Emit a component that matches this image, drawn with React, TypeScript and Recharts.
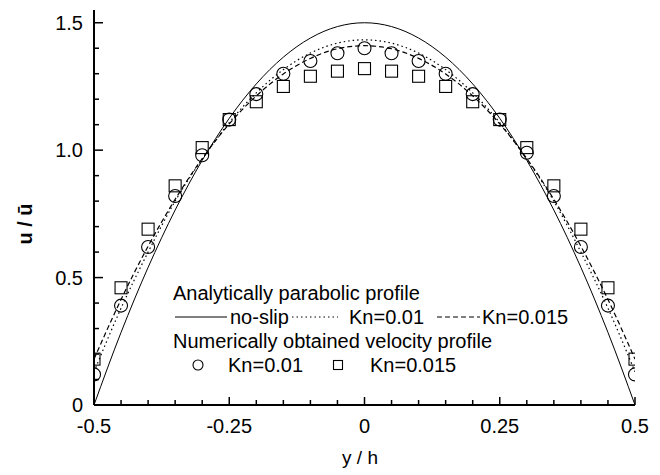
import { ComposedChart, Line, Scatter, XAxis, YAxis, Legend } from 'recharts';

// channel position y/h and velocity ratio u/ū
const positions = [
  -0.5, -0.45, -0.4, -0.35, -0.3, -0.25, -0.2, -0.15, -0.1, -0.05, 0,
  0.05, 0.1, 0.15, 0.2, 0.25, 0.3, 0.35, 0.4, 0.45, 0.5,
];

// analytical profiles
const noSlip = [
  0, 0.285, 0.54, 0.765, 0.96, 1.125, 1.26, 1.365, 1.44, 1.485, 1.5,
  1.485, 1.44, 1.365, 1.26, 1.125, 0.96, 0.765, 0.54, 0.285, 0,
];
const slipKn01 = [
  0.13, 0.38, 0.6, 0.8, 0.965, 1.108, 1.225, 1.316, 1.381, 1.42, 1.433,
  1.42, 1.381, 1.316, 1.225, 1.108, 0.965, 0.8, 0.6, 0.38, 0.13,
];
const slipKn015 = [
  0.18, 0.414, 0.623, 0.807, 0.967, 1.103, 1.213, 1.299, 1.36, 1.398, 1.41,
  1.398, 1.36, 1.299, 1.213, 1.103, 0.967, 0.807, 0.623, 0.414, 0.18,
];

// numerical results
const numKn01 = [
  0.12, 0.39, 0.62, 0.82, 0.98, 1.12, 1.22, 1.3, 1.35, 1.38, 1.4,
  1.38, 1.35, 1.3, 1.22, 1.12, 0.99, 0.82, 0.62, 0.39, 0.12,
];
const numKn015 = [
  0.18, 0.46, 0.69, 0.86, 1.01, 1.12, 1.19, 1.25, 1.29, 1.31, 1.32,
  1.31, 1.29, 1.25, 1.19, 1.12, 1.01, 0.86, 0.69, 0.46, 0.18,
];

const xTicks = [
  -0.5, -0.45, -0.4, -0.35, -0.3, -0.25, -0.2, -0.15, -0.1, -0.05, 0,
  0.05, 0.1, 0.15, 0.2, 0.25, 0.3, 0.35, 0.4, 0.45, 0.5,
];
const xMajor = [-0.5, -0.25, 0, 0.25, 0.5];
const xLabels = ['-0.5', '-0.25', '0', '0.25', '0.5'];
const yTicks = [0, 0.1, 0.2, 0.3, 0.4, 0.5, 0.6, 0.7, 0.8, 0.9, 1, 1.1, 1.2, 1.3, 1.4, 1.5];
const yMajor = [0, 0.5, 1, 1.5];
const yLabels = ['0', '0.5', '1.0', '1.5'];

const toPoints = (vals: number[]) => positions.map((pos, i) => ({ pos, u: vals[i] }));

const FONT = '"Liberation Sans", Arial, sans-serif';
const STROKE = '#000';

const BottomTick = ({ x, y, payload }: any) => {
  const idx = xMajor.indexOf(payload.value);
  const len = idx >= 0 ? 8 : 5;
  return (
    <g>
      <line x1={x} x2={x} y1={y} y2={y - len} stroke={STROKE} strokeWidth={1.5} />
      {idx >= 0 && (
        <text x={x} y={y + 28} textAnchor="middle" fontSize={20} fontFamily={FONT} fill="#000">
          {xLabels[idx]}
        </text>
      )}
    </g>
  );
};

const TopTick = ({ x, y, payload }: any) => {
  const len = xMajor.includes(payload.value) ? 8 : 5;
  return <line x1={x} x2={x} y1={y} y2={y + len} stroke={STROKE} strokeWidth={1.5} />;
};

const LeftTick = ({ x, y, payload }: any) => {
  const idx = yMajor.indexOf(payload.value);
  const len = idx >= 0 ? 9 : 5;
  return (
    <g>
      <line x1={x} x2={x + len} y1={y} y2={y} stroke={STROKE} strokeWidth={1.5} />
      {idx >= 0 && (
        <text x={x - 11} y={y + 7} textAnchor="end" fontSize={20} fontFamily={FONT} fill="#000">
          {yLabels[idx]}
        </text>
      )}
    </g>
  );
};

const RightTick = ({ x, y, payload }: any) => {
  const len = yMajor.includes(payload.value) ? 9 : 5;
  return <line x1={x} x2={x - len} y1={y} y2={y} stroke={STROKE} strokeWidth={1.5} />;
};

const CircleMark = ({ cx, cy }: any) =>
  cx == null ? null : <circle cx={cx} cy={cy} r={6.5} fill="none" stroke={STROKE} strokeWidth={1.1} />;

const SquareMark = ({ cx, cy }: any) =>
  cx == null ? null : <rect x={cx - 6} y={cy - 6} width={12} height={12} fill="none" stroke={STROKE} strokeWidth={1.1} />;

const legendText = { fontSize: 20, fontFamily: FONT, fill: '#000' } as const;

const renderLegend = () => (
  <svg width={440} height={100} style={{ display: 'block', overflow: 'visible' }}>
    <text x={13} y={20} {...legendText}>Analytically parabolic profile</text>
    <line x1={15} x2={67} y1={37} y2={37} stroke={STROKE} strokeWidth={1} />
    <text x={70} y={44} {...legendText}>no-slip</text>
    <line x1={132} x2={178} y1={37} y2={37} stroke={STROKE} strokeWidth={1.2} strokeDasharray="1.5 3" />
    <text x={189} y={44} {...legendText}>Kn=0.01</text>
    <line x1={277} x2={320} y1={37} y2={37} stroke={STROKE} strokeWidth={1.2} strokeDasharray="5 3" />
    <text x={322} y={44} {...legendText}>Kn=0.015</text>
    <text x={13} y={68} {...legendText}>Numerically obtained velocity profile</text>
    <circle cx={38} cy={85} r={5} fill="none" stroke={STROKE} strokeWidth={1.1} />
    <text x={68} y={92} {...legendText}>Kn=0.01</text>
    <rect x={173.5} y={80.5} width={9} height={9} fill="none" stroke={STROKE} strokeWidth={1.1} />
    <text x={210} y={92} {...legendText}>Kn=0.015</text>
  </svg>
);

export default function App() {
  return (
    <div style={{ position: 'absolute', left: 0, top: 0, background: '#fff' }}>
      <ComposedChart width={660} height={475} margin={{ top: 10, right: 25, bottom: 0, left: 0 }}>
        <XAxis
          xAxisId="b"
          dataKey="pos"
          type="number"
          domain={[-0.5, 0.5]}
          ticks={xTicks}
          interval={0}
          tickSize={0}
          tickMargin={0}
          tick={BottomTick}
          height={70}
          axisLine={{ stroke: STROKE, strokeWidth: 2 }}
          allowDataOverflow
          label={{
            content: () => (
              <text x={360} y={464} textAnchor="middle" fontSize={19} fontFamily={FONT} fill="#000">
                y / h
              </text>
            ),
          }}
        />
        <XAxis
          xAxisId="t"
          orientation="top"
          dataKey="pos"
          type="number"
          domain={[-0.5, 0.5]}
          ticks={xTicks}
          interval={0}
          tickSize={0}
          tickMargin={0}
          tick={TopTick}
          height={0}
          axisLine={{ stroke: STROKE, strokeWidth: 2 }}
          allowDataOverflow
        />
        <YAxis
          yAxisId="l"
          type="number"
          domain={[0, 1.55]}
          ticks={yTicks}
          interval={0}
          tickSize={0}
          tickMargin={0}
          tick={LeftTick}
          width={94}
          axisLine={{ stroke: STROKE, strokeWidth: 2 }}
          allowDataOverflow
          label={{
            content: () => (
              <text
                transform="translate(25, 224) rotate(-90)"
                textAnchor="middle"
                dominantBaseline="central"
                fontSize={20}
                fontWeight="bold"
                fontFamily={FONT}
                fill="#000"
              >
                u / ū
              </text>
            ),
          }}
        />
        <YAxis
          yAxisId="r"
          orientation="right"
          type="number"
          domain={[0, 1.55]}
          ticks={yTicks}
          interval={0}
          tickSize={0}
          tickMargin={0}
          tick={RightTick}
          width={0}
          axisLine={{ stroke: STROKE, strokeWidth: 2 }}
          allowDataOverflow
        />
        <Line
          xAxisId="b"
          yAxisId="l"
          data={toPoints(noSlip)}
          dataKey="u"
          type="monotone"
          stroke={STROKE}
          strokeWidth={1}
          dot={false}
          isAnimationActive={false}
        />
        <Line
          xAxisId="b"
          yAxisId="l"
          data={toPoints(slipKn01)}
          dataKey="u"
          type="monotone"
          stroke={STROKE}
          strokeWidth={1.2}
          strokeDasharray="1.5 3"
          dot={false}
          isAnimationActive={false}
        />
        <Line
          xAxisId="b"
          yAxisId="l"
          data={toPoints(slipKn015)}
          dataKey="u"
          type="monotone"
          stroke={STROKE}
          strokeWidth={1.2}
          strokeDasharray="5 3"
          dot={false}
          isAnimationActive={false}
        />
        <Scatter
          xAxisId="b"
          yAxisId="l"
          data={toPoints(numKn01)}
          dataKey="u"
          shape={CircleMark}
          isAnimationActive={false}
        />
        <Scatter
          xAxisId="b"
          yAxisId="l"
          data={toPoints(numKn015)}
          dataKey="u"
          shape={SquareMark}
          isAnimationActive={false}
        />
        <Legend
          content={renderLegend}
          layout="horizontal"
          verticalAlign="middle"
          align="center"
          wrapperStyle={{ position: 'absolute', left: 160, top: 280, width: 440, height: 100 }}
        />
      </ComposedChart>
    </div>
  );
}
